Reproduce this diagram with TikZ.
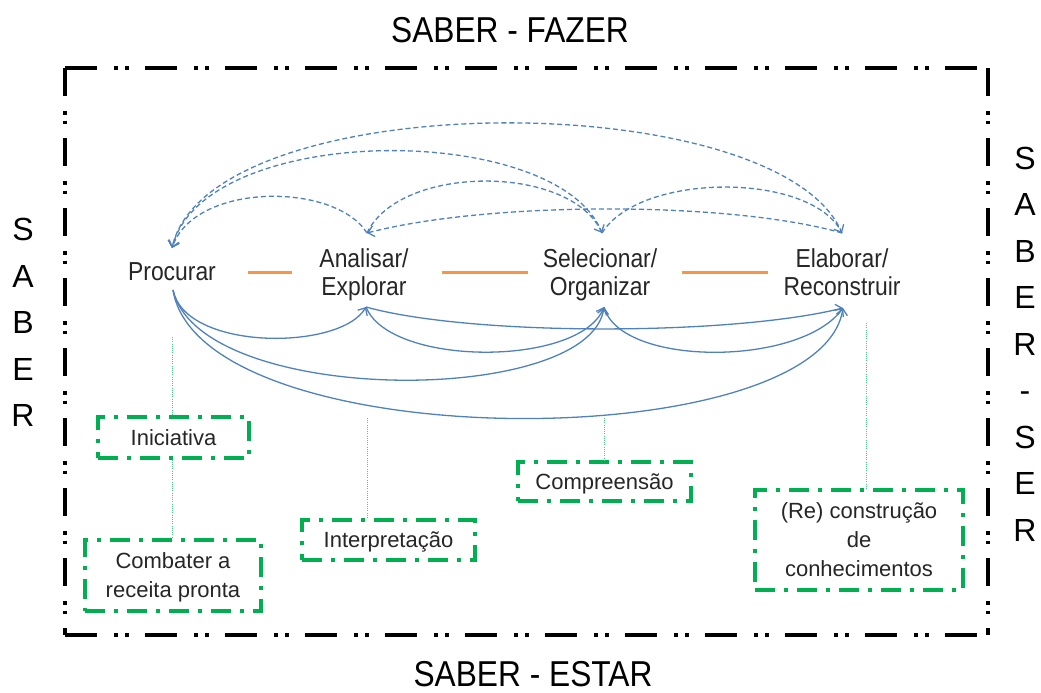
\documentclass[tikz,border=0pt]{standalone}
\usepackage{fontspec}
\setmainfont{Liberation Sans}
\newfontfamily\condfont[FakeStretch=0.88]{Liberation Sans}
\usetikzlibrary{arrows.meta}
\definecolor{blueline}{HTML}{4F81BD}
\definecolor{orangeline}{HTML}{F79646}
\definecolor{greenbox}{HTML}{00B050}
\definecolor{txtgray}{HTML}{262626}
\begin{document}
\begin{tikzpicture}[x=1pt,y=-1pt,
  lbl/.style={font=\condfont\fontsize{26}{28}\selectfont, align=center, inner sep=0pt, text depth=0pt, text=txtgray},
  title/.style={font=\condfont\fontsize{36}{40}\selectfont, inner sep=0pt, text depth=0pt, text=black},
  side/.style={font=\fontsize{32}{46.5}\selectfont, align=center, inner sep=0pt, text depth=0pt, text=black},
  gbox/.style={draw=greenbox, line width=3.2pt, dash pattern=on 20pt off 9pt on 4pt off 9pt,
     font=\fontsize{22}{29}\selectfont, align=center, inner sep=0pt, text depth=0pt, text=txtgray},
  frameh/.style={draw=black, line width=4pt, dash pattern=on 32pt off 17pt on 4pt off 7pt on 4pt off 16pt},
  framev/.style={draw=black, line width=4pt, dash pattern=on 28pt off 15pt on 3.5pt off 6pt on 3.5pt off 14pt},
  solidarc/.style={draw=blueline, line width=1.3pt, -{Straight Barb[length=6pt,width=11pt]}},
  dasharc/.style={draw=blueline, line width=1.3pt, dash pattern=on 5pt off 3pt, -{Straight Barb[length=6pt,width=11pt]}},
  sep/.style={draw=orangeline, line width=3pt},
  gline/.style={draw=greenbox!70, line width=0.8pt, dash pattern=on 1pt off 1.2pt}
]
\useasboundingbox (0,0) rectangle (1041,693);

% titles
\node[title] (top) at (510,30) {SABER - FAZER};
\node[title] (bot) at (533,674) {SABER - ESTAR};
\node[side] (left) at (23,322.5) {S\\A\\B\\E\\R};
\node[side] (right) at (1025,344) {S\\A\\B\\E\\R\\-\\S\\E\\R};

% frame
\draw[frameh] (65,68) -- (988,68);
\draw[frameh] (65,635) -- (988,635);
\draw[framev] (65,68) -- (65,635);
\draw[framev] (988,68) -- (988,635);

% main labels
\node[lbl] (proc) at (172,272) {Procurar};
\node[lbl] (anal) at (364,272) {Analisar/\\Explorar};
\node[lbl] (sel) at (600,272) {Selecionar/\\Organizar};
\node[lbl] (elab) at (842,272) {Elaborar/\\Reconstruir};

% separators
\draw[sep, shorten <=76pt, shorten >=72pt] (proc.center) -- (anal.center);
\draw[sep, shorten <=78pt, shorten >=72pt] (anal.center) -- (sel.center);
\draw[sep, shorten <=82pt, shorten >=74pt] (sel.center) -- (elab.center);

% arc end points
\coordinate (pT) at (172,248);
\coordinate (pB) at (173,290);
\coordinate (aT) at (367,233);
\coordinate (aB) at (366,307);
\coordinate (sT) at (602,233);
\coordinate (sB) at (604,307);
\coordinate (eT) at (842,233);
\coordinate (eB) at (843,308);

% dashed arcs (top)
\draw[dasharc] (eT) .. controls (780,84) and (210,84) .. (pT);
\draw[dasharc] (sT) .. controls (560,121) and (205,121) .. (pT);
\draw[dasharc] (aT) .. controls (335,182) and (195,182) .. (pT);
\draw[dasharc] (aT) .. controls (400,164) and (570,164) .. (sT);
\draw[dasharc] (sT) .. controls (640,172) and (810,172) .. (eT);
\draw[dasharc] (eT) .. controls (730,201) and (490,201) .. (aT);

% solid arcs (bottom)
\draw[solidarc] (pB) .. controls (185,351) and (340,351) .. (aB);
\draw[solidarc] (pB) .. controls (200,407) and (590,407) .. (sB);
\draw[solidarc] (pB) .. controls (200,458) and (820,458) .. (eB);
\draw[solidarc] (aB) .. controls (390,367) and (580,367) .. (sB);
\draw[solidarc] (sB) .. controls (620,367) and (800,367) .. (eB);
\draw[solidarc] (aB) .. controls (470,336) and (730,336) .. (eB);

% green boxes
\node[gbox, minimum width=151pt, minimum height=41pt] (ini) at (173.5,437.5) {Iniciativa};
\node[gbox, minimum width=176pt, minimum height=71pt] (comb) at (173,575.5) {Combater a\\receita pronta};
\node[gbox, minimum width=173pt, minimum height=40pt] (interp) at (388.5,540) {Interpreta\c{c}\~ao};
\node[gbox, minimum width=173pt, minimum height=39pt] (comp) at (604.5,481.5) {Compreens\~ao};
\node[gbox, minimum width=208pt, minimum height=100pt] (recon) at (859,540) {(Re) constru\c{c}\~ao\\de\\conhecimentos};

% green dotted connectors
\coordinate (g1) at (172,337);
\coordinate (g3) at (367,418);
\coordinate (g4) at (604,418);
\coordinate (g5) at (866,323);
\draw[gline] (g1) -- (g1 |- ini.north);
\draw[gline] (ini.south -| g1) -- (comb.north -| g1);
\draw[gline] (g3) -- (g3 |- interp.north);
\draw[gline] (g4) -- (g4 |- comp.north);
\draw[gline] (g5) -- (g5 |- recon.north);
\end{tikzpicture}
\end{document}
